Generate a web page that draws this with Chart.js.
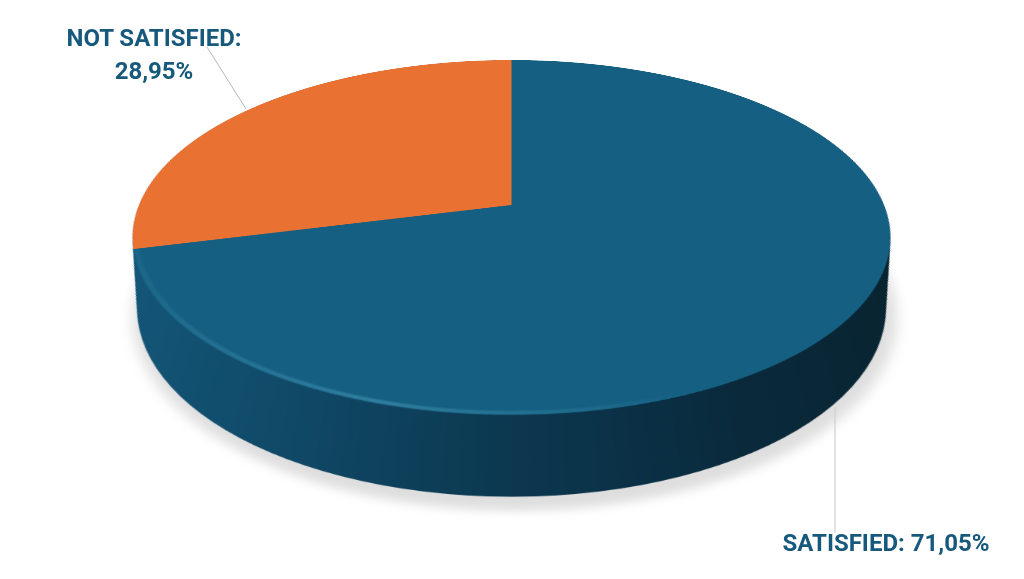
<!DOCTYPE html>
<html>
<head>
<meta charset="utf-8">
<script src="https://cdn.jsdelivr.net/npm/chart.js@4"></script>
<style>
html, body { margin: 0; padding: 0; background: #fff; }
#page { position: relative; width: 1024px; height: 579px; overflow: hidden; background: #fff; }
#pie { position: absolute; left: 59px; top: -395px; transform-origin: 50% 50%; transform: perspective(1808px) rotateX(62.6deg); }
#lines { position: absolute; left: 0; top: 0; }
.lbl { position: absolute; color: #17597c; font-family: Roboto, sans-serif; font-weight: 700; font-size: 24px; line-height: 33px; text-align: center; white-space: nowrap; }
</style>
</head>
<body>
<div id="page">
  <canvas id="pie" width="905" height="1200"></canvas>
  <svg id="lines" width="1024" height="579">
    <line x1="207" y1="47" x2="246" y2="109" stroke="#b8b8b8" stroke-width="1"></line>
    <line x1="835" y1="407" x2="835" y2="533" stroke="#cfcfcf" stroke-width="1.2"></line>
  </svg>
  <div class="lbl" id="lbl0" style="left:782px;top:527px;width:208px"></div>
  <div class="lbl" id="lbl1" style="left:54px;top:22px;width:200px"></div>
</div>
<script>
const categories = ['SATISFIED', 'NOT SATISFIED'];
const shares = [71.05, 28.95];
const sliceColors = ['#156082', '#E97132'];

// thickness of the disc, in units of the radius, on the tilted plane
const wallDrop = 0.378;
const wallShrink = 0.08;

function pct(v) {
    return v.toFixed(2).replace('.', ',') + '%';
}

document.getElementById('lbl0').textContent = categories[0] + ': ' + pct(shares[0]);
document.getElementById('lbl1').innerHTML = categories[1] + ':<br>' + pct(shares[1]);

const discPlugin = {
    id: 'disc',
    beforeDatasetsDraw(chart) {
        const arc = chart.getDatasetMeta(0).data[0];
        const ctx = chart.ctx;
        const cx = arc.x, cy = arc.y, R = arc.outerRadius;

        // soft shadow under the disc
        ctx.save();
        ctx.filter = 'blur(12px)';
        ctx.fillStyle = 'rgba(0,0,0,0.13)';
        ctx.beginPath();
        ctx.arc(cx + 3, cy + R * (wallDrop + 0.035), R * (1 - wallShrink + 0.012), 0, Math.PI * 2);
        ctx.fill();
        ctx.restore();

        // side wall, stacked circles going down and getting narrower
        const grad = ctx.createLinearGradient(cx - R, 0, cx + R, 0);
        grad.addColorStop(0, '#15587b');
        grad.addColorStop(0.25, '#104a68');
        grad.addColorStop(0.5, '#0c3850');
        grad.addColorStop(0.75, '#0a2a3c');
        grad.addColorStop(1, '#09232f');
        ctx.save();
        ctx.fillStyle = grad;
        const steps = 160;
        for (let i = steps; i >= 0; i--) {
            const k = i / steps;
            ctx.beginPath();
            ctx.arc(cx, cy + R * wallDrop * k, R * (1 - wallShrink * k), 0, Math.PI * 2);
            ctx.fill();
        }
        ctx.restore();
    },
    afterDatasetsDraw(chart) {
        const arc = chart.getDatasetMeta(0).data[0];
        const ctx = chart.ctx;
        const cx = arc.x, cy = arc.y, R = arc.outerRadius;

        // light rim on the front left edge of the top face
        const rim = ctx.createLinearGradient(cx - R, 0, cx + R * 0.4, 0);
        rim.addColorStop(0, 'rgba(60,140,175,0.15)');
        rim.addColorStop(0.5, 'rgba(70,150,185,0.6)');
        rim.addColorStop(0.85, 'rgba(60,140,175,0.25)');
        rim.addColorStop(1, 'rgba(60,140,175,0)');
        ctx.save();
        ctx.filter = 'blur(2.5px)';
        ctx.strokeStyle = rim;
        ctx.lineWidth = 5;
        ctx.beginPath();
        ctx.arc(cx, cy, R - 3, Math.PI * 0.38, Math.PI * 0.92);
        ctx.stroke();
        ctx.restore();
    }
};

new Chart(document.getElementById('pie'), {
    type: 'pie',
    data: {
        labels: categories,
        datasets: [{
            data: shares,
            backgroundColor: sliceColors,
            borderWidth: 0
        }]
    },
    options: {
        responsive: false,
        animation: false,
        devicePixelRatio: 2,
        layout: { padding: { left: 80, right: 80 } },
        plugins: { legend: { display: false }, tooltip: { enabled: false } }
    },
    plugins: [discPlugin]
});
</script>
</body>
</html>
